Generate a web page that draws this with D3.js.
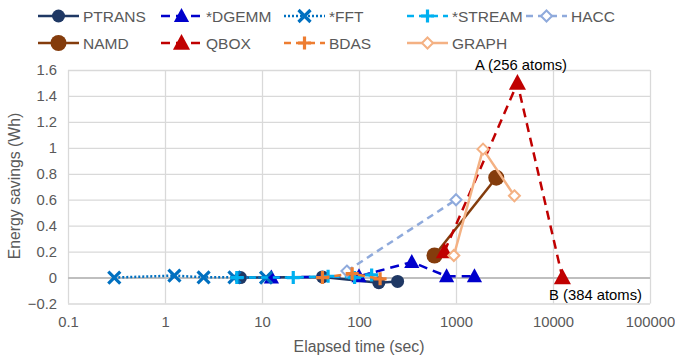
<!DOCTYPE html>
<html>
<head>
<meta charset="utf-8">
<script src="https://cdn.jsdelivr.net/npm/d3@7"></script>
<style>
  body { margin: 0; background: #fff; }
  text { font-family: "Liberation Sans", Arial, sans-serif; }
</style>
</head>
<body>
<div id="chart"></div>
<script>
// elapsed time (sec), energy savings (Wh)
const ptrans = [[6, 0], [42, 0.005], [160, -0.04], [250, -0.03]];
const dgemm  = [[12.5, 0], [100, 0.01], [350, 0.12], [800, 0.01], [1550, 0.01]];
const fft    = [[0.3, 0], [1.25, 0.015], [2.5, 0.002], [5.2, 0.002], [11, 0]];
const stream = [[5.5, 0], [21, 0], [48, 0.01], [90, 0], [135, 0.02]];
const hacc   = [[75, 0.05], [1000, 0.6]];
const namd   = [[600, 0.17], [2600, 0.77]];
const qbox   = [[760, 0.2], [4300, 1.5], [12500, 0]];
const bdas   = [[42, 0], [85, 0.03], [165, -0.01]];
const graph  = [[950, 0.17], [1900, 0.99], [4000, 0.63]];

const xTicks = [0.1, 1, 10, 100, 1000, 10000, 100000];
const yTicks = [-0.2, 0, 0.2, 0.4, 0.6, 0.8, 1, 1.2, 1.4, 1.6];

const series = [
  {name: "PTRANS",  data: ptrans, color: "#1f3864", dash: null,  width: 2.5, marker: "circle", size: 6.5, row: 0, lx: 38},
  {name: "*DGEMM",  data: dgemm,  color: "#0000cc", dash: "9,6", width: 2.5, marker: "triangle", size: 8, row: 0, lx: 161},
  {name: "*FFT",    data: fft,    color: "#0070c0", dash: "2,2", width: 2.5, marker: "x", size: 6, row: 0, lx: 284},
  {name: "*STREAM", data: stream, color: "#00b0f0", dash: "7,5", width: 2.5, marker: "plus", size: 6.5, row: 0, lx: 407},
  {name: "HACC",    data: hacc,   color: "#8faadc", dash: "7,5", width: 2.5, marker: "diamond", size: 5.5, row: 0, lx: 526},
  {name: "NAMD",    data: namd,   color: "#843c0c", dash: null,  width: 2.5, marker: "circle", size: 8, row: 1, lx: 38},
  {name: "QBOX",    data: qbox,   color: "#c00000", dash: "9,6", width: 2.5, marker: "triangle", size: 9, row: 1, lx: 161},
  {name: "BDAS",    data: bdas,   color: "#ed7d31", dash: "7,5", width: 2.5, marker: "plus", size: 6.5, row: 1, lx: 284},
  {name: "GRAPH",   data: graph,  color: "#f4b183", dash: null,  width: 2.5, marker: "diamond", size: 5.5, row: 1, lx: 407}
];

const W = 675, H = 358;
const svg = d3.select("#chart").append("svg").attr("width", W).attr("height", H);

const x = d3.scaleLog().domain([0.1, 100000]).range([68, 650]);
const y = d3.scaleLinear().domain([-0.2, 1.6]).range([303.5, 70]);

// gridlines
svg.append("g")
  .attr("transform", "translate(0,70)")
  .call(d3.axisBottom(x).tickValues(xTicks).tickSize(233.5).tickFormat(""))
  .call(g => g.select(".domain").remove())
  .call(g => g.selectAll("line").attr("stroke", "#d9d9d9").attr("stroke-width", 1.3));
svg.append("g")
  .attr("transform", "translate(68,0)")
  .call(d3.axisRight(y).tickValues(yTicks).tickSize(582).tickFormat(""))
  .call(g => g.select(".domain").remove())
  .call(g => g.selectAll("line")
    .attr("stroke", d => d === 0 ? "#bfbfbf" : "#d9d9d9")
    .attr("stroke-width", d => d === 0 ? 2 : 1.3));

// tick labels
svg.append("g")
  .attr("transform", "translate(0,310)")
  .call(d3.axisBottom(x).tickValues(xTicks).tickSize(0).tickPadding(6).tickFormat(d3.format("")))
  .call(g => g.select(".domain").remove())
  .call(g => g.selectAll("text").attr("fill", "#595959").attr("font-size", 14.8)
    .attr("font-family", "Liberation Sans, Arial, sans-serif"));
svg.append("g")
  .attr("transform", "translate(57,0)")
  .call(d3.axisLeft(y).tickValues(yTicks).tickSize(0).tickPadding(0).tickFormat(d => d3.format("")(+d.toFixed(1))))
  .call(g => g.select(".domain").remove())
  .call(g => g.selectAll("text").attr("fill", "#595959").attr("font-size", 14.8)
    .attr("font-family", "Liberation Sans, Arial, sans-serif"));

// axis titles
svg.append("text").attr("x", 359).attr("y", 352).attr("text-anchor", "middle")
  .attr("fill", "#595959").attr("font-size", 15.8).text("Elapsed time (sec)");
svg.append("text").attr("transform", "translate(20,186) rotate(-90)").attr("text-anchor", "middle")
  .attr("fill", "#595959").attr("font-size", 15.8).text("Energy savings (Wh)");

function markerPath(type, s) {
  if (type === "circle") return d3.symbol(d3.symbolCircle, Math.PI * s * s)();
  if (type === "triangle") return `M0,${-s}L${s * 0.95},${s * 0.75}L${-s * 0.95},${s * 0.75}Z`;
  if (type === "diamond") return `M0,${-s}L${s},0L0,${s}L${-s},0Z`;
  if (type === "plus") return `M${-s},0H${s}M0,${-s}V${s}`;
  if (type === "x") return `M${-s},${-s}L${s},${s}M${s},${-s}L${-s},${s}`;
}

function drawMarker(g, type, s, color) {
  const p = g.append("path").attr("d", markerPath(type, s));
  if (type === "plus" || type === "x") {
    p.attr("fill", "none").attr("stroke", color).attr("stroke-width", 3.2);
  } else if (type === "diamond") {
    p.attr("fill", "#fff").attr("stroke", color).attr("stroke-width", 2);
  } else {
    p.attr("fill", color);
  }
}

const line = d3.line().x(d => x(d[0])).y(d => y(d[1]));

series.forEach(s => {
  const g = svg.append("g");
  g.append("path").datum(s.data).attr("d", line)
    .attr("fill", "none").attr("stroke", s.color).attr("stroke-width", s.width)
    .attr("stroke-dasharray", s.dash);
  s.data.forEach(d => {
    const m = g.append("g").attr("transform", `translate(${x(d[0])},${y(d[1])})`);
    drawMarker(m, s.marker, s.size, s.color);
  });
});

// annotations
svg.append("text").attr("x", 521).attr("y", 70).attr("text-anchor", "middle")
  .attr("fill", "#000").attr("font-size", 14.8).text("A (256 atoms)");
svg.append("text").attr("x", 642).attr("y", 300).attr("text-anchor", "end")
  .attr("fill", "#000").attr("font-size", 14.8).text("B (384 atoms)");

// legend
series.forEach(s => {
  const ly = s.row === 0 ? 16 : 43;
  const g = svg.append("g");
  g.append("line").attr("x1", s.lx).attr("x2", s.lx + 41).attr("y1", ly).attr("y2", ly)
    .attr("stroke", s.color).attr("stroke-width", s.width).attr("stroke-dasharray", s.dash);
  const m = g.append("g").attr("transform", `translate(${s.lx + 20.5},${ly})`);
  drawMarker(m, s.marker, s.size, s.color);
  g.append("text").attr("x", s.lx + 45).attr("y", ly + 5.5)
    .attr("fill", "#595959").attr("font-size", 15.5).text(s.name);
});
</script>
</body>
</html>
